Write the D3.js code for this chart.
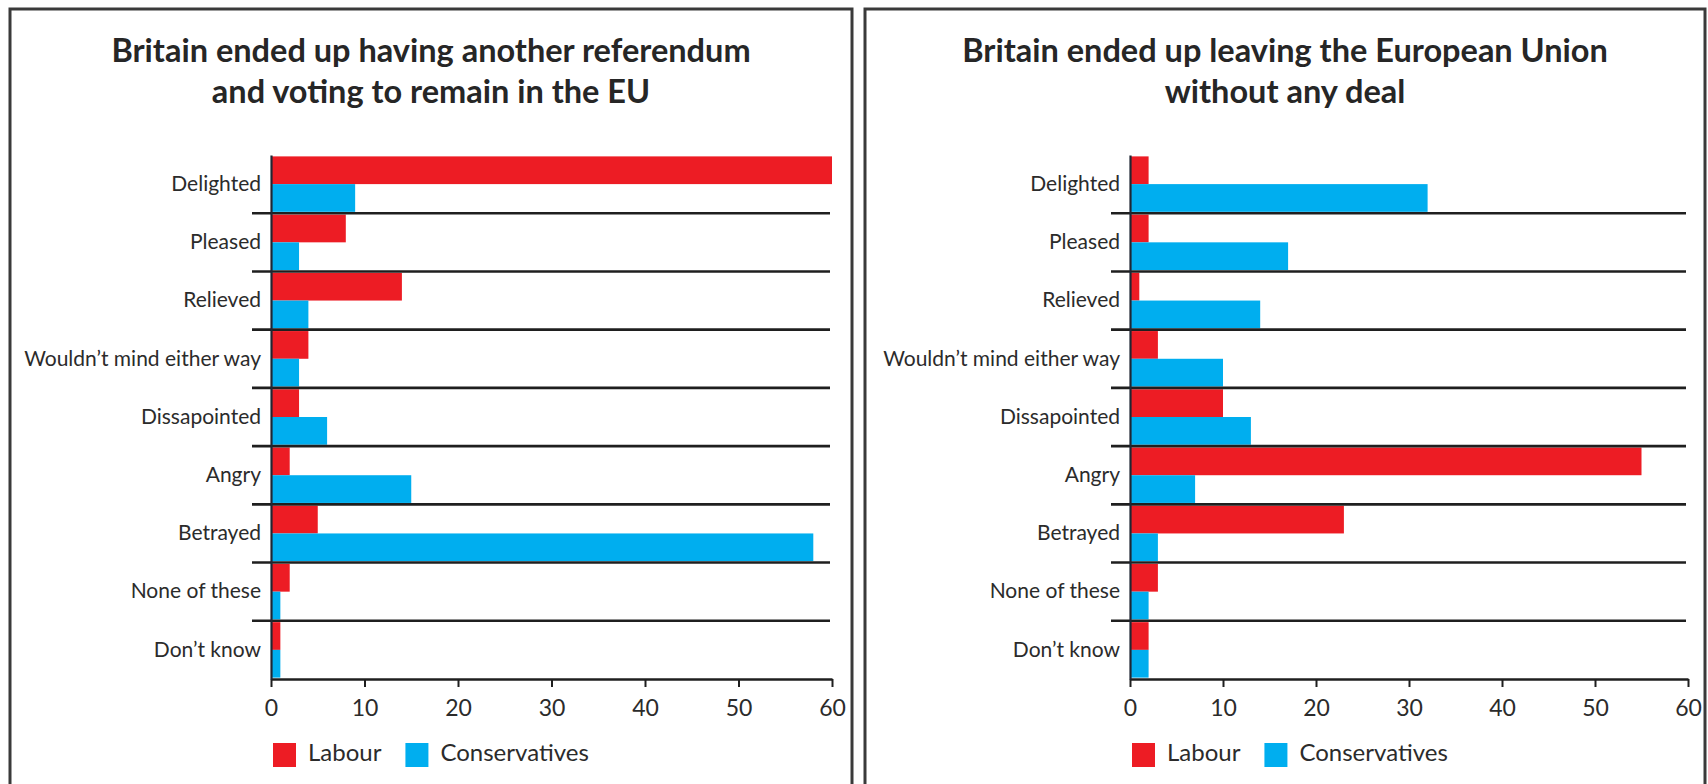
<!DOCTYPE html>
<html>
<head>
<meta charset="utf-8">
<script src="https://cdn.jsdelivr.net/npm/d3@7"></script>
<style>
  html, body { margin: 0; padding: 0; background: #ffffff; }
  svg { display: block; }
  text { font-family: Lato, "Open Sans", "DejaVu Sans", sans-serif; fill: #2b2b2b; }
</style>
</head>
<body>
<svg id="chart" width="1708" height="784"></svg>
<script>
// Reactions by party to two Brexit outcomes (% of voters)
const categories = [
  "Delighted", "Pleased", "Relieved", "Wouldn\u2019t mind either way",
  "Dissapointed", "Angry", "Betrayed", "None of these", "Don\u2019t know"
];
const seriesNames = ["Labour", "Conservatives"];
const seriesColors = ["#ed1c24", "#00aeef"];

const remainTitle = ["Britain ended up having another referendum", "and voting to remain in the EU"];
const remainLabour = [60, 8, 14, 4, 3, 2, 5, 2, 1];
const remainConservatives = [9, 3, 4, 3, 6, 15, 58, 1, 1];

const noDealTitle = ["Britain ended up leaving the European Union", "without any deal"];
const noDealLabour = [2, 2, 1, 3, 10, 55, 23, 3, 2];
const noDealConservatives = [32, 17, 14, 10, 13, 7, 3, 2, 2];

const xTicks = [0, 10, 20, 30, 40, 50, 60];
const xMax = 60;

// Panel layout
const panels = [
  { title: remainTitle, values: [remainLabour, remainConservatives],
    box: [10, 9, 842, 790], plot: [271, 832] },
  { title: noDealTitle, values: [noDealLabour, noDealConservatives],
    box: [865, 9, 840, 790], plot: [1130, 1688] }
];
const plotTop = 155, plotBottom = 679;

const svg = d3.select("#chart");

panels.forEach(p => {
  const g = svg.append("g");
  const [bx, by, bw, bh] = p.box;

  // panel frame
  g.append("rect")
    .attr("x", bx).attr("y", by).attr("width", bw).attr("height", bh)
    .attr("fill", "#ffffff").attr("stroke", "#3a3a3a").attr("stroke-width", 3);

  // title
  const cx = bx + bw / 2;
  g.append("text")
    .attr("x", cx).attr("y", 54)
    .attr("text-anchor", "middle").attr("dominant-baseline", "middle")
    .style("font-weight", 700).style("font-size", "32.5px").style("fill", "#262626")
    .selectAll("tspan").data(p.title).join("tspan")
      .attr("x", cx).attr("dy", (d, i) => i === 0 ? 0 : 41)
      .text(d => d);

  const x = d3.scaleLinear().domain([0, xMax]).range(p.plot);
  const y = d3.scaleBand().domain(categories).range([plotTop, plotBottom]).padding(0);
  const ySub = d3.scaleBand().domain(seriesNames).range([0, y.bandwidth()])
    .paddingInner(0).paddingOuter(0.05);

  // bars
  seriesNames.forEach((s, si) => {
    g.append("g").selectAll("rect")
      .data(categories.map((c, i) => ({ c, v: p.values[si][i] })))
      .join("rect")
        .attr("x", x(0))
        .attr("y", d => y(d.c) + ySub(s))
        .attr("width", d => x(d.v) - x(0))
        .attr("height", ySub.bandwidth())
        .attr("fill", seriesColors[si]);
  });

  // separators between categories, running a little left of the axis
  g.append("g").selectAll("line")
    .data(categories.slice(1))
    .join("line")
      .attr("x1", x(0) - 19).attr("x2", x(xMax) - 2)
      .attr("y1", d => y(d)).attr("y2", d => y(d))
      .attr("stroke", "#1f1f1f").attr("stroke-width", 2.6);

  // x axis
  const xAxis = g.append("g")
    .attr("transform", `translate(0,${plotBottom})`)
    .call(d3.axisBottom(x).tickValues(xTicks).tickSizeInner(8).tickSizeOuter(0).tickPadding(13));
  xAxis.select(".domain").attr("stroke", "#1f1f1f").attr("stroke-width", 2.6);
  xAxis.selectAll(".tick line").attr("stroke", "#1f1f1f").attr("stroke-width", 2);
  xAxis.selectAll(".tick text")
    .style("font-family", "Lato, 'Open Sans', sans-serif")
    .style("font-size", "23px").attr("fill", "#2b2b2b");

  // y axis (category labels)
  const yAxis = g.append("g")
    .attr("transform", `translate(${x(0)},0)`)
    .call(d3.axisLeft(y).tickSize(0).tickPadding(10));
  yAxis.select(".domain").attr("stroke", "#1f2633").attr("stroke-width", 2.2);
  yAxis.selectAll(".tick text")
    .style("font-family", "Lato, 'Open Sans', sans-serif")
    .style("font-size", "21px").attr("fill", "#2b2b2b");

  // legend
  const leg = g.append("g").attr("transform", `translate(${x(0) + 2},755)`);
  let lx = 0;
  seriesNames.forEach((s, si) => {
    leg.append("rect").attr("x", lx).attr("y", -12).attr("width", 23).attr("height", 24)
      .attr("fill", seriesColors[si]);
    const t = leg.append("text").attr("x", lx + 35).attr("y", 0)
      .attr("dominant-baseline", "middle")
      .style("font-size", "24px").text(s);
    lx += 35 + t.node().getComputedTextLength() + 24;
  });
});
</script>
</body>
</html>
